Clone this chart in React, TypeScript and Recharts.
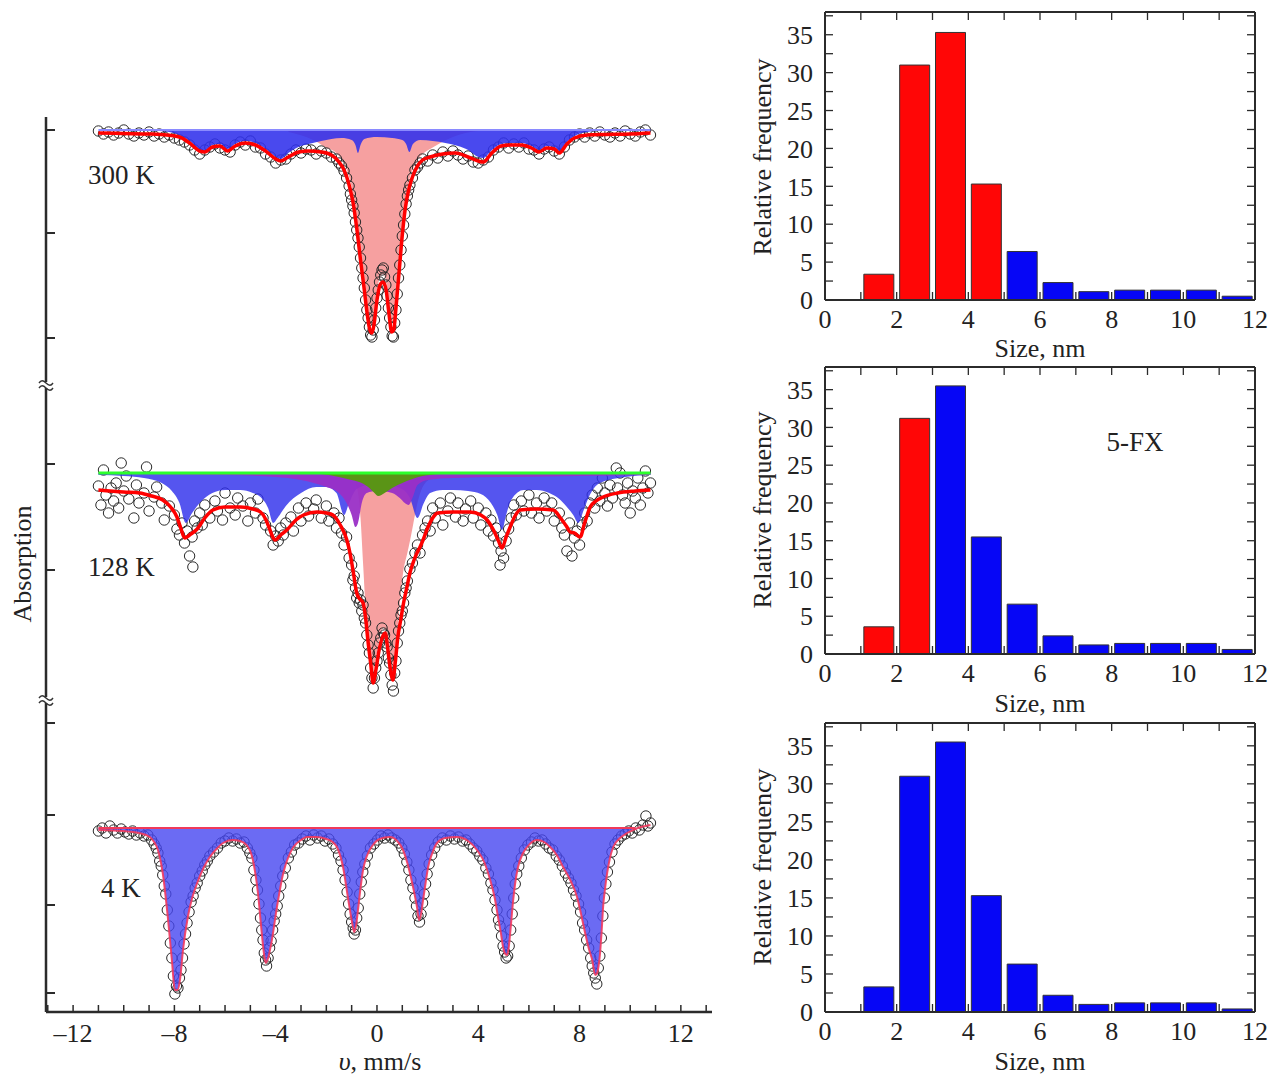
import React from 'react';
import { ComposedChart, Bar, Cell, XAxis, YAxis, Area, Line, Scatter } from 'recharts';

const FONT = '"Liberation Serif", "DejaVu Serif", "Times New Roman", serif';
const AX = '#2b2b2b';

// ---------- Mössbauer spectra: velocity axis ----------
const V_TICKS = [-13, -12, -11, -10, -9, -8, -7, -6, -5, -4, -3, -2, -1, 0, 1, 2, 3, 4, 5, 6, 7, 8, 9, 10, 11, 12, 13];
const V_LABELED = [-12, -8, -4, 0, 4, 8, 12];
const V_DOMAIN = [-13.07, 13.23];

// ---------- 300 K (absorption, arbitrary units, baseline 0) ----------
const fit300 = [[-11,0.03],[-10,0.035],[-9,0.04],[-8.3,0.05],[-7.8,0.07],[-7.4,0.13],[-7.0,0.21],[-6.8,0.22],[-6.5,0.17],[-6.2,0.16],[-5.9,0.21],[-5.6,0.16],[-5.2,0.13],[-4.8,0.15],[-4.4,0.21],[-4.0,0.29],[-3.8,0.31],[-3.5,0.27],[-3.1,0.22],[-2.7,0.21],[-2.2,0.22],[-1.8,0.25],[-1.5,0.32],[-1.3,0.4],[-1.1,0.55],[-0.95,0.72],[-0.8,0.98],[-0.65,1.3],[-0.5,1.6],[-0.38,1.85],[-0.28,2.0],[-0.2,2.03],[-0.12,1.95],[0,1.7],[0.12,1.55],[0.24,1.52],[0.36,1.6],[0.48,1.85],[0.58,2.02],[0.66,2.0],[0.76,1.75],[0.88,1.4],[1.0,1.05],[1.12,0.78],[1.25,0.6],[1.4,0.47],[1.6,0.36],[1.8,0.3],[2.1,0.27],[2.6,0.24],[3.1,0.23],[3.6,0.27],[4.0,0.31],[4.2,0.32],[4.5,0.24],[4.9,0.16],[5.3,0.15],[5.7,0.15],[6.1,0.18],[6.4,0.22],[6.7,0.18],[7.0,0.19],[7.2,0.23],[7.5,0.14],[7.8,0.08],[8.3,0.05],[9,0.045],[10,0.04],[10.8,0.03]];
const sextet300 = [[-11,0],[-9,0.005],[-8.2,0.02],[-7.8,0.05],[-7.4,0.11],[-7.0,0.2],[-6.8,0.21],[-6.5,0.15],[-6.2,0.14],[-5.9,0.19],[-5.6,0.14],[-5.2,0.11],[-4.8,0.13],[-4.4,0.19],[-4.0,0.27],[-3.8,0.29],[-3.5,0.23],[-3.1,0.17],[-2.7,0.14],[-2.2,0.11],[-1.8,0.09],[-1.4,0.08],[-1.0,0.1],[-0.85,0.15],[-0.75,0.23],[-0.65,0.15],[-0.5,0.09],[0,0.07],[0.6,0.08],[1.0,0.1],[1.15,0.14],[1.28,0.22],[1.42,0.14],[1.7,0.1],[2.2,0.11],[2.7,0.13],[3.2,0.16],[3.6,0.2],[4.0,0.27],[4.2,0.28],[4.5,0.21],[4.9,0.14],[5.3,0.13],[5.7,0.13],[6.1,0.16],[6.4,0.2],[6.7,0.16],[7.0,0.17],[7.2,0.21],[7.5,0.12],[7.8,0.06],[8.3,0.02],[9,0.005],[10.8,0]];
const doublet300 = [[-3.5,0.02],[-2.8,0.07],[-2.3,0.13],[-2.0,0.18],[-1.7,0.21],[-1.5,0.26],[-1.3,0.33],[-1.1,0.47],[-0.95,0.64],[-0.8,0.9],[-0.65,1.22],[-0.5,1.52],[-0.38,1.77],[-0.28,1.92],[-0.2,1.95],[-0.12,1.87],[0,1.62],[0.12,1.47],[0.24,1.44],[0.36,1.52],[0.48,1.77],[0.58,1.94],[0.66,1.92],[0.76,1.67],[0.88,1.32],[1.0,0.97],[1.12,0.7],[1.25,0.52],[1.4,0.4],[1.6,0.3],[1.8,0.24],[2.1,0.19],[2.5,0.13],[3.0,0.07],[3.5,0.03],[4.0,0.01]];
const points300 = [[-11,0.01],[-10.8,0.04],[-10.6,0.02],[-10.4,0.05],[-10.2,0.03],[-10,0],[-9.8,0.04],[-9.6,0.06],[-9.4,0.03],[-9.2,0.05],[-9,0.02],[-8.8,0.06],[-8.6,0.04],[-8.4,0.07],[-8.2,0.05],[-8,0.08],[-7.8,0.1],[-7.6,0.12],[-7.4,0.15],[-7.2,0.2],[-7,0.24],[-6.8,0.2],[-6.6,0.17],[-6.4,0.14],[-6.2,0.18],[-6,0.2],[-5.8,0.22],[-5.6,0.15],[-5.4,0.12],[-5.2,0.15],[-5,0.11],[-4.8,0.17],[-4.6,0.18],[-4.4,0.24],[-4.2,0.27],[-4,0.33],[-3.8,0.3],[-3.6,0.29],[-3.4,0.24],[-3.2,0.2],[-3,0.23],[-2.8,0.19],[-2.6,0.2],[-2.4,0.24],[-2.2,0.21],[-2,0.23],[-1.8,0.27],[-1.6,0.29],[-1.5,0.33],[-1.4,0.36],[-1.3,0.41],[-1.2,0.48],[-1.1,0.56],[-1.05,0.64],[-1,0.7],[-0.95,0.76],[-0.9,0.83],[-0.85,0.92],[-0.8,1.0],[-0.75,1.08],[-0.7,1.17],[-0.65,1.28],[-0.6,1.38],[-0.55,1.48],[-0.5,1.58],[-0.45,1.7],[-0.4,1.8],[-0.35,1.88],[-0.3,1.97],[-0.25,2.05],[-0.2,2.07],[-0.15,2.0],[-0.1,1.9],[-0.05,1.78],[0,1.68],[0.05,1.6],[0.1,1.52],[0.15,1.45],[0.2,1.4],[0.25,1.38],[0.3,1.47],[0.35,1.55],[0.4,1.66],[0.45,1.78],[0.5,1.88],[0.55,1.97],[0.6,2.06],[0.65,2.07],[0.7,1.93],[0.75,1.8],[0.8,1.64],[0.85,1.48],[0.9,1.35],[0.95,1.2],[1,1.06],[1.05,0.95],[1.1,0.84],[1.15,0.74],[1.2,0.66],[1.25,0.6],[1.3,0.55],[1.4,0.48],[1.5,0.4],[1.6,0.37],[1.7,0.33],[1.8,0.29],[2,0.31],[2.2,0.25],[2.4,0.28],[2.6,0.22],[2.8,0.26],[3,0.21],[3.2,0.25],[3.4,0.29],[3.6,0.26],[3.8,0.32],[4,0.33],[4.2,0.3],[4.4,0.27],[4.6,0.2],[4.8,0.17],[5,0.13],[5.2,0.18],[5.4,0.14],[5.6,0.17],[5.8,0.13],[6,0.19],[6.2,0.2],[6.4,0.24],[6.6,0.19],[6.8,0.17],[7,0.21],[7.2,0.24],[7.4,0.17],[7.6,0.1],[7.8,0.07],[8,0.04],[8.2,0.07],[8.4,0.03],[8.6,0.06],[8.8,0.02],[9,0.05],[9.2,0.07],[9.4,0.03],[9.6,0.06],[9.8,0.01],[10,0.04],[10.2,0.06],[10.4,0.02],[10.6,0],[10.8,0.05]];
const base300 = [[-11,0],[10.8,0]];
const Y300_DOMAIN = [-0.13, 2.55];
const Y300_TICKS = [0, 1.03, 2.08];

// ---------- 128 K ----------
const fit128 = [[-11,0.17],[-10,0.19],[-9.37,0.2],[-8.9,0.23],[-8.46,0.27],[-8.15,0.34],[-7.9,0.44],[-7.75,0.55],[-7.59,0.65],[-7.4,0.62],[-7.1,0.56],[-6.8,0.45],[-6.48,0.37],[-6.0,0.34],[-5.4,0.34],[-4.9,0.36],[-4.6,0.39],[-4.4,0.46],[-4.27,0.54],[-4.15,0.62],[-4.03,0.67],[-3.8,0.62],[-3.56,0.57],[-3.2,0.47],[-2.9,0.42],[-2.37,0.39],[-2.0,0.4],[-1.74,0.42],[-1.45,0.52],[-1.19,0.67],[-1.05,0.82],[-0.93,1.0],[-0.8,1.2],[-0.68,1.26],[-0.55,1.3],[-0.45,1.45],[-0.36,1.67],[-0.25,1.9],[-0.15,2.1],[-0.05,1.98],[0.1,1.75],[0.25,1.62],[0.32,1.6],[0.42,1.75],[0.52,1.95],[0.63,2.07],[0.72,1.9],[0.82,1.65],[0.95,1.45],[1.05,1.3],[1.2,1.12],[1.3,1.0],[1.45,0.88],[1.58,0.8],[1.7,0.74],[1.82,0.67],[2.0,0.55],[2.2,0.45],[2.4,0.4],[3.0,0.39],[3.68,0.39],[4.1,0.42],[4.35,0.47],[4.6,0.57],[4.8,0.68],[4.94,0.75],[5.1,0.64],[5.26,0.54],[5.45,0.43],[5.65,0.37],[6.3,0.36],[6.96,0.37],[7.25,0.45],[7.5,0.54],[7.63,0.59],[7.8,0.6],[8.02,0.64],[8.2,0.5],[8.42,0.34],[8.65,0.28],[8.93,0.24],[9.5,0.2],[10.2,0.18],[10.8,0.17]];
const sextet128 = [[-11,0.02],[-10,0.03],[-9.2,0.05],[-8.5,0.1],[-8.1,0.18],[-7.8,0.3],[-7.55,0.5],[-7.3,0.4],[-7.0,0.3],[-6.5,0.2],[-6.0,0.17],[-5.4,0.17],[-4.9,0.2],[-4.6,0.24],[-4.3,0.35],[-4.1,0.5],[-3.9,0.44],[-3.6,0.33],[-3.0,0.2],[-2.4,0.14],[-2.0,0.14],[-1.6,0.2],[-1.3,0.42],[-1.1,0.3],[-0.8,0.16],[-0.3,0.12],[0.3,0.12],[0.9,0.15],[1.3,0.25],[1.6,0.45],[1.85,0.3],[2.1,0.2],[2.6,0.17],[3.0,0.17],[3.6,0.18],[4.1,0.21],[4.5,0.3],[4.75,0.42],[4.94,0.57],[5.1,0.42],[5.3,0.27],[5.8,0.17],[6.3,0.17],[6.8,0.2],[7.2,0.26],[7.5,0.34],[7.75,0.42],[7.95,0.5],[8.15,0.38],[8.35,0.25],[8.8,0.1],[9.8,0.04],[10.8,0.02]];
const purple128 = [[-11,0.01],[-6,0.02],[-4,0.04],[-3,0.07],[-2.5,0.1],[-2.0,0.14],[-1.5,0.2],[-1.2,0.3],[-1.0,0.42],[-0.85,0.54],[-0.75,0.5],[-0.6,0.3],[-0.4,0.2],[0,0.18],[0.6,0.2],[0.9,0.25],[1.1,0.3],[1.25,0.32],[1.4,0.25],[1.6,0.12],[2.0,0.07],[3,0.05],[5,0.04],[8,0.03],[10.8,0.02]];
const olive128 = [[-2.6,0],[-2.2,0.01],[-1.5,0.04],[-1.0,0.07],[-0.6,0.1],[-0.3,0.15],[-0.1,0.2],[0.05,0.23],[0.3,0.2],[0.6,0.15],[1.0,0.1],[1.4,0.06],[1.8,0.03],[2.5,0.01],[3,0]];
const doublet128 = [[-1.2,0.02],[-0.9,0.08],[-0.75,0.2],[-0.65,0.45],[-0.55,0.9],[-0.45,1.35],[-0.35,1.65],[-0.25,1.9],[-0.15,2.0],[-0.05,1.88],[0.1,1.65],[0.25,1.55],[0.35,1.58],[0.45,1.75],[0.55,1.95],[0.63,2.0],[0.72,1.85],[0.8,1.6],[0.9,1.3],[1.03,1.0],[1.2,0.8],[1.35,0.62],[1.5,0.42],[1.65,0.25],[1.85,0.12],[2.2,0.05],[3,0.01]];
const points128 = [[-11,0.13],[-10.9,0.32],[-10.8,-0.03],[-10.7,0.22],[-10.6,0.4],[-10.5,0.15],[-10.4,0.28],[-10.3,0.1],[-10.2,0.35],[-10.1,-0.1],[-10,0.18],[-9.9,0.03],[-9.8,0.26],[-9.6,0.45],[-9.5,0.12],[-9.4,0.3],[-9.2,0.2],[-9.1,-0.06],[-9,0.38],[-8.8,0.24],[-8.7,0.14],[-8.5,0.3],[-8.4,0.47],[-8.2,0.33],[-8,0.42],[-7.9,0.56],[-7.8,0.62],[-7.7,0.5],[-7.6,0.7],[-7.5,0.58],[-7.4,0.83],[-7.3,0.64],[-7.27,0.94],[-7.2,0.48],[-7.1,0.55],[-7,0.4],[-6.9,0.52],[-6.8,0.32],[-6.6,0.45],[-6.4,0.28],[-6.3,0.38],[-6.1,0.47],[-6,0.2],[-5.8,0.35],[-5.6,0.42],[-5.5,0.25],[-5.3,0.33],[-5.1,0.48],[-5,0.3],[-4.8,0.4],[-4.7,0.26],[-4.5,0.45],[-4.4,0.52],[-4.2,0.58],[-4.1,0.72],[-4,0.63],[-3.9,0.68],[-3.8,0.55],[-3.7,0.62],[-3.6,0.5],[-3.4,0.44],[-3.3,0.58],[-3.1,0.35],[-3,0.48],[-2.8,0.3],[-2.7,0.43],[-2.5,0.36],[-2.4,0.27],[-2.2,0.45],[-2,0.33],[-1.9,0.48],[-1.7,0.4],[-1.6,0.55],[-1.5,0.45],[-1.4,0.6],[-1.3,0.72],[-1.2,0.64],[-1.1,0.85],[-1,0.92],[-0.95,1.07],[-0.9,1.03],[-0.85,1.15],[-0.8,1.25],[-0.75,1.2],[-0.7,1.3],[-0.65,1.27],[-0.6,1.38],[-0.55,1.32],[-0.5,1.45],[-0.45,1.5],[-0.4,1.62],[-0.35,1.72],[-0.3,1.8],[-0.25,1.95],[-0.2,2.05],[-0.15,2.15],[-0.1,2.05],[-0.05,1.95],[0,1.88],[0.05,1.8],[0.1,1.7],[0.15,1.65],[0.2,1.55],[0.25,1.6],[0.3,1.62],[0.35,1.7],[0.4,1.74],[0.45,1.85],[0.5,1.9],[0.55,2.02],[0.6,2.12],[0.65,2.18],[0.7,2.0],[0.75,1.88],[0.8,1.7],[0.85,1.58],[0.9,1.5],[0.95,1.42],[1,1.38],[1.05,1.3],[1.1,1.2],[1.15,1.15],[1.2,1.08],[1.3,0.96],[1.4,0.9],[1.5,0.8],[1.6,0.72],[1.7,0.8],[1.8,0.62],[1.9,0.55],[2,0.48],[2.1,0.58],[2.2,0.35],[2.3,0.45],[2.5,0.3],[2.6,0.52],[2.8,0.38],[2.9,0.25],[3.1,0.44],[3.2,0.3],[3.4,0.48],[3.5,0.36],[3.7,0.28],[3.8,0.45],[4,0.35],[4.1,0.52],[4.3,0.4],[4.4,0.58],[4.5,0.47],[4.6,0.63],[4.7,0.55],[4.8,0.7],[4.86,0.92],[4.9,0.78],[5,0.85],[5.1,0.68],[5.2,0.56],[5.3,0.45],[5.4,0.32],[5.5,0.42],[5.7,0.28],[5.8,0.38],[6,0.22],[6.1,0.4],[6.3,0.3],[6.4,0.45],[6.6,0.25],[6.7,0.38],[6.9,0.3],[7,0.48],[7.2,0.4],[7.3,0.55],[7.4,0.62],[7.5,0.78],[7.6,0.5],[7.7,0.83],[7.8,0.65],[7.9,0.58],[8,0.72],[8.1,0.52],[8.2,0.4],[8.3,0.48],[8.4,0.3],[8.5,0.22],[8.6,0.35],[8.7,0.15],[8.8,0.28],[8.9,0.05],[9,0.2],[9.1,0.33],[9.2,0.12],[9.3,0.25],[9.45,-0.05],[9.5,0.15],[9.6,0],[9.7,0.22],[9.8,0.3],[9.9,0.1],[10,0.4],[10.1,0.18],[10.2,0.25],[10.3,0.05],[10.4,0.32],[10.5,0.15],[10.6,-0.02],[10.7,0.2],[10.8,0.1]];
const base128 = [[-11,0],[10.8,0]];
const Y128_DOMAIN = [-0.88, 2.27];
const Y128_TICKS = [-0.09, 0.97];

// ---------- 4 K ----------
const fit4 = [[-11,0.02],[-10,0.03],[-9.4,0.05],[-8.97,0.09],[-8.8,0.14],[-8.65,0.22],[-8.46,0.45],[-8.26,0.89],[-8.1,1.32],[-7.98,1.62],[-7.88,1.62],[-7.78,1.52],[-7.66,1.22],[-7.47,0.89],[-7.3,0.7],[-7.1,0.55],[-6.85,0.4],[-6.6,0.29],[-6.3,0.2],[-6.08,0.15],[-5.7,0.12],[-5.4,0.13],[-5.15,0.17],[-4.9,0.32],[-4.7,0.65],[-4.55,1.05],[-4.45,1.28],[-4.39,1.35],[-4.3,1.3],[-4.15,1.12],[-3.95,0.79],[-3.7,0.45],[-3.5,0.29],[-3.3,0.19],[-3.0,0.12],[-2.77,0.09],[-2.4,0.09],[-2.0,0.11],[-1.75,0.14],[-1.58,0.19],[-1.34,0.39],[-1.15,0.69],[-1.0,0.92],[-0.9,1.04],[-0.83,0.98],[-0.75,0.82],[-0.65,0.6],[-0.55,0.42],[-0.4,0.28],[-0.16,0.17],[0.1,0.11],[0.51,0.09],[0.8,0.13],[1.03,0.22],[1.2,0.35],[1.3,0.45],[1.45,0.62],[1.58,0.79],[1.66,0.92],[1.74,0.86],[1.82,0.72],[1.92,0.55],[2.02,0.39],[2.2,0.24],[2.37,0.15],[2.7,0.1],[3.16,0.09],[3.6,0.13],[3.95,0.22],[4.25,0.35],[4.47,0.52],[4.65,0.7],[4.78,0.89],[4.9,1.06],[4.98,1.19],[5.07,1.26],[5.14,1.27],[5.2,1.2],[5.26,1.05],[5.38,0.72],[5.47,0.53],[5.57,0.39],[5.75,0.26],[5.93,0.19],[6.32,0.12],[6.6,0.14],[6.84,0.19],[7.1,0.27],[7.35,0.39],[7.65,0.53],[7.9,0.69],[8.05,0.85],[8.22,1.05],[8.38,1.22],[8.5,1.32],[8.62,1.47],[8.68,1.46],[8.75,1.38],[8.81,1.25],[8.88,1.0],[8.93,0.79],[9.0,0.62],[9.09,0.45],[9.2,0.3],[9.33,0.19],[9.6,0.1],[9.88,0.05],[10.3,0],[10.8,-0.03]];
const points4 = [[-11,0.03],[-10.85,0],[-10.7,0.05],[-10.55,-0.02],[-10.4,0.02],[-10.25,0.05],[-10.1,0.01],[-9.95,0.04],[-9.8,0.06],[-9.65,0.03],[-9.5,0.07],[-9.35,0.05],[-9.2,0.08],[-9.05,0.07],[-8.9,0.12],[-8.8,0.16],[-8.72,0.2],[-8.65,0.25],[-8.58,0.33],[-8.52,0.38],[-8.46,0.47],[-8.4,0.58],[-8.34,0.66],[-8.28,0.82],[-8.22,0.98],[-8.16,1.15],[-8.1,1.3],[-8.04,1.48],[-7.98,1.66],[-7.92,1.58],[-7.86,1.6],[-7.8,1.5],[-7.74,1.42],[-7.68,1.3],[-7.62,1.16],[-7.56,1.06],[-7.5,0.95],[-7.42,0.84],[-7.34,0.74],[-7.26,0.68],[-7.18,0.6],[-7.1,0.55],[-7,0.48],[-6.9,0.43],[-6.8,0.37],[-6.7,0.33],[-6.6,0.28],[-6.45,0.24],[-6.3,0.2],[-6.15,0.15],[-6,0.13],[-5.85,0.1],[-5.7,0.13],[-5.55,0.11],[-5.4,0.15],[-5.25,0.14],[-5.12,0.2],[-5.02,0.25],[-4.94,0.3],[-4.86,0.42],[-4.78,0.52],[-4.72,0.62],[-4.66,0.76],[-4.6,0.9],[-4.55,1.02],[-4.5,1.12],[-4.45,1.25],[-4.4,1.32],[-4.36,1.38],[-4.3,1.3],[-4.24,1.2],[-4.18,1.13],[-4.12,1.02],[-4.06,0.93],[-4,0.86],[-3.94,0.78],[-3.88,0.68],[-3.8,0.58],[-3.72,0.48],[-3.62,0.4],[-3.5,0.3],[-3.38,0.24],[-3.25,0.17],[-3.1,0.15],[-2.95,0.11],[-2.8,0.08],[-2.65,0.12],[-2.5,0.07],[-2.35,0.1],[-2.2,0.08],[-2.05,0.13],[-1.9,0.11],[-1.75,0.16],[-1.62,0.2],[-1.52,0.27],[-1.42,0.33],[-1.34,0.42],[-1.26,0.52],[-1.18,0.64],[-1.12,0.76],[-1.06,0.86],[-1,0.94],[-0.94,1.0],[-0.9,1.06],[-0.85,1.02],[-0.8,0.9],[-0.74,0.8],[-0.68,0.66],[-0.62,0.54],[-0.56,0.44],[-0.48,0.36],[-0.38,0.28],[-0.26,0.2],[-0.12,0.16],[0.02,0.12],[0.16,0.08],[0.3,0.1],[0.44,0.07],[0.58,0.1],[0.72,0.12],[0.86,0.15],[0.98,0.2],[1.08,0.26],[1.18,0.34],[1.26,0.42],[1.34,0.52],[1.42,0.6],[1.5,0.7],[1.56,0.78],[1.62,0.88],[1.68,0.94],[1.74,0.86],[1.8,0.75],[1.86,0.66],[1.92,0.56],[1.98,0.46],[2.06,0.36],[2.16,0.27],[2.28,0.2],[2.42,0.14],[2.58,0.1],[2.74,0.12],[2.9,0.08],[3.06,0.11],[3.22,0.09],[3.38,0.13],[3.52,0.12],[3.66,0.16],[3.8,0.2],[3.94,0.23],[4.06,0.28],[4.18,0.32],[4.3,0.4],[4.4,0.46],[4.5,0.55],[4.58,0.62],[4.66,0.72],[4.74,0.82],[4.8,0.92],[4.86,0.98],[4.92,1.08],[4.98,1.18],[5.04,1.24],[5.1,1.3],[5.16,1.28],[5.22,1.18],[5.28,1.02],[5.34,0.86],[5.4,0.7],[5.46,0.56],[5.52,0.46],[5.6,0.38],[5.7,0.3],[5.82,0.22],[5.96,0.17],[6.1,0.14],[6.24,0.1],[6.38,0.13],[6.52,0.12],[6.66,0.16],[6.8,0.2],[6.94,0.22],[7.08,0.28],[7.2,0.32],[7.32,0.38],[7.44,0.45],[7.56,0.5],[7.66,0.55],[7.76,0.62],[7.86,0.68],[7.96,0.76],[8.04,0.84],[8.12,0.95],[8.2,1.02],[8.28,1.12],[8.36,1.2],[8.44,1.3],[8.5,1.38],[8.56,1.45],[8.62,1.5],[8.68,1.56],[8.74,1.4],[8.8,1.28],[8.86,1.1],[8.92,0.88],[8.98,0.7],[9.04,0.56],[9.1,0.44],[9.18,0.34],[9.28,0.24],[9.4,0.16],[9.52,0.12],[9.66,0.08],[9.8,0.06],[9.94,0.03],[10.08,0.05],[10.22,0],[10.36,0.02],[10.5,-0.03],[10.62,-0.12],[10.7,-0.02],[10.8,-0.05]];
const base4 = [[-11,0],[10.2,0]];
const Y4_DOMAIN = [-1.28, 1.84];
const Y4_TICKS = [-1.05, -0.13, 0.77, 1.65];

// ---------- Size histograms ----------
const H_SIZES = [1.5, 2.5, 3.5, 4.5, 5.5, 6.5, 7.5, 8.5, 9.5, 10.5, 11.5];
const H1_FREQ = [3.4, 31.0, 35.3, 15.3, 6.4, 2.3, 1.1, 1.3, 1.3, 1.3, 0.5];
const H2_FREQ = [3.6, 31.2, 35.5, 15.5, 6.6, 2.4, 1.2, 1.4, 1.4, 1.4, 0.6];
const H3_FREQ = [3.3, 31.0, 35.5, 15.3, 6.3, 2.2, 1.0, 1.2, 1.2, 1.2, 0.4];
const H1_RED = 4;
const H2_RED = 2;
const H3_RED = 0;
const H_XTICKS = [0, 1, 2, 3, 4, 5, 6, 7, 8, 9, 10, 11, 12];
const H_YTICKS = [0, 2.5, 5, 7.5, 10, 12.5, 15, 17.5, 20, 22.5, 25, 27.5, 30, 32.5, 35, 37.5];

const rows = (arr) => arr.map(([v, a]) => ({ v, a }));
const clampRows = (arr) => arr.map(([v, a]) => ({ v, a: Math.max(0, a) }));

const C_RED = '#ff0000';
const C_BLUE = '#3030ec';
const C_PINK = '#f6a0a0';
const C_PURPLE = '#9a2fc6';
const C_OLIVE = '#5a9416';
const C_GREEN = '#2cff2c';

const vLabel = (v) => (V_LABELED.includes(v) ? (v < 0 ? '\u2013' + Math.abs(v) : String(v)) : '');
const tickFont = { fontSize: 26, fontFamily: FONT, fill: '#222' };

const LEFT_W = 760;
const LEFT_MARGIN = { left: 45, right: 48 };

const ringShape = (p) => (
  <circle cx={p.cx} cy={p.cy} r={5.2} fill="none" stroke="#2a2a2a" strokeWidth={1} />
);

function yAxisLeft(domain, ticks) {
  return (
    <YAxis
      type="number"
      dataKey="a"
      domain={domain}
      allowDataOverflow
      reversed
      ticks={ticks}
      interval={0}
      width={1}
      tickSize={-9}
      tickFormatter={() => ''}
      axisLine={{ stroke: AX, strokeWidth: 2.5 }}
      tickLine={{ stroke: AX, strokeWidth: 2 }}
    />
  );
}

function xAxisV(show) {
  if (!show) {
    return <XAxis type="number" dataKey="v" domain={V_DOMAIN} allowDataOverflow hide height={1} />;
  }
  return (
    <XAxis
      type="number"
      dataKey="v"
      domain={V_DOMAIN}
      allowDataOverflow
      ticks={V_TICKS}
      interval={0}
      height={1}
      tickSize={-7}
      tickMargin={19}
      tickFormatter={vLabel}
      tick={tickFont}
      axisLine={{ stroke: AX, strokeWidth: 2.5 }}
      tickLine={{ stroke: AX, strokeWidth: 1.5 }}
    />
  );
}

function Hist({ top, freq, redCount, mt, mb }) {
  const data = H_SIZES.map((s, i) => ({ size: s, f: freq[i] }));
  return (
    <div style={{ position: 'absolute', left: 740, top, width: 537, height: 360 }}>
      <ComposedChart width={537} height={360} data={data} margin={{ top: mt, right: 21, bottom: mb, left: 84 }}>
        <XAxis xAxisId="b" type="number" dataKey="size" domain={[0, 12]} allowDataOverflow ticks={H_XTICKS} interval={0}
          height={1} tickSize={-8} tickMargin={18} tick={tickFont}
          tickFormatter={(v) => (v % 2 === 0 ? String(v) : '')}
          axisLine={{ stroke: AX, strokeWidth: 2 }} tickLine={{ stroke: AX, strokeWidth: 1.3 }} />
        <XAxis xAxisId="t" orientation="top" type="number" dataKey="size" domain={[0, 12]} allowDataOverflow ticks={H_XTICKS} interval={0}
          height={1} tickSize={-8} tickFormatter={() => ''}
          axisLine={{ stroke: AX, strokeWidth: 2 }} tickLine={{ stroke: AX, strokeWidth: 1.3 }} />
        <YAxis yAxisId="l" type="number" domain={[0, 38]} allowDataOverflow ticks={H_YTICKS} interval={0}
          width={1} tickSize={-8} tickMargin={20} tick={tickFont}
          tickFormatter={(v) => (v % 5 === 0 ? String(v) : '')}
          axisLine={{ stroke: AX, strokeWidth: 2 }} tickLine={{ stroke: AX, strokeWidth: 1.3 }} />
        <YAxis yAxisId="r" orientation="right" type="number" domain={[0, 38]} allowDataOverflow ticks={H_YTICKS} interval={0}
          width={1} tickSize={-8} tickFormatter={() => ''}
          axisLine={{ stroke: AX, strokeWidth: 2 }} tickLine={{ stroke: AX, strokeWidth: 1.3 }} />
        <Bar xAxisId="b" yAxisId="l" dataKey="f" barSize={30} stroke="#333" strokeWidth={1} isAnimationActive={false}>
          {data.map((d, i) => (
            <Cell key={i} fill={i < redCount ? '#ff0606' : '#0606f6'} />
          ))}
        </Bar>
        <Line xAxisId="t" yAxisId="r" dataKey="f" stroke="none" dot={false} activeDot={false} isAnimationActive={false} legendType="none" />
      </ComposedChart>
    </div>
  );
}

export default function App() {
  const d300 = { fit: rows(fit300), sx: rows(sextet300), db: rows(doublet300), pts: rows(points300), base: rows(base300) };
  const d128 = { fit: rows(fit128), sx: rows(sextet128), pu: rows(purple128), ol: rows(olive128), db: rows(doublet128), pts: rows(points128), base: rows(base128) };
  const d4 = { fit: rows(fit4), fill: clampRows(fit4), pts: rows(points4), base: rows(base4) };

  return (
    <div style={{ position: 'absolute', left: 0, top: 0, width: 1277, height: 1079, background: '#fff', fontFamily: FONT }}>
      {/* 300 K */}
      <div style={{ position: 'absolute', left: 0, top: 117, width: LEFT_W, height: 268 }}>
        <ComposedChart width={LEFT_W} height={268} margin={{ top: 0, bottom: 0, ...LEFT_MARGIN }}>
          {xAxisV(false)}
          {yAxisLeft(Y300_DOMAIN, Y300_TICKS)}
          <Area data={d300.db} dataKey="a" type="monotone" baseValue={0} fill={C_PINK} fillOpacity={1} stroke="none" isAnimationActive={false} zIndex={100} />
          <Scatter data={d300.pts} dataKey="a" shape={ringShape} isAnimationActive={false} zIndex={150} />
          <Area data={d300.sx} dataKey="a" type="monotone" baseValue={0} fill={C_BLUE} fillOpacity={0.88} stroke="none" isAnimationActive={false} zIndex={200} />
          <Line data={d300.base} dataKey="a" stroke="#8a8aff" strokeWidth={2} dot={false} isAnimationActive={false} zIndex={230} />
          <Line data={d300.fit} dataKey="a" type="monotone" stroke={C_RED} strokeWidth={3.5} dot={false} isAnimationActive={false} zIndex={400} />
        </ComposedChart>
      </div>

      {/* 128 K */}
      <div style={{ position: 'absolute', left: 0, top: 385, width: LEFT_W, height: 315 }}>
        <ComposedChart width={LEFT_W} height={315} margin={{ top: 0, bottom: 0, ...LEFT_MARGIN }}>
          {xAxisV(false)}
          {yAxisLeft(Y128_DOMAIN, Y128_TICKS)}
          <Area data={d128.db} dataKey="a" type="monotone" baseValue={0} fill={C_PINK} fillOpacity={1} stroke="none" isAnimationActive={false} zIndex={100} />
          <Scatter data={d128.pts} dataKey="a" shape={ringShape} isAnimationActive={false} zIndex={150} />
          <Area data={d128.sx} dataKey="a" type="monotone" baseValue={0} fill={C_BLUE} fillOpacity={0.82} stroke="none" isAnimationActive={false} zIndex={200} />
          <Area data={d128.pu} dataKey="a" type="monotone" baseValue={0} fill={C_PURPLE} fillOpacity={0.95} stroke="none" isAnimationActive={false} zIndex={210} />
          <Area data={d128.ol} dataKey="a" type="monotone" baseValue={0} fill={C_OLIVE} fillOpacity={1} stroke="none" isAnimationActive={false} zIndex={220} />
          <Line data={d128.base} dataKey="a" stroke={C_GREEN} strokeWidth={3} dot={false} isAnimationActive={false} zIndex={230} />
          <Line data={d128.fit} dataKey="a" type="monotone" stroke={C_RED} strokeWidth={3.5} dot={false} isAnimationActive={false} zIndex={400} />
        </ComposedChart>
      </div>

      {/* 4 K */}
      <div style={{ position: 'absolute', left: 0, top: 700, width: LEFT_W, height: 379 }}>
        <ComposedChart width={LEFT_W} height={379} margin={{ top: 0, bottom: 66, ...LEFT_MARGIN }}>
          {xAxisV(true)}
          {yAxisLeft(Y4_DOMAIN, Y4_TICKS)}
          <Scatter data={d4.pts} dataKey="a" shape={ringShape} isAnimationActive={false} zIndex={150} />
          <Area data={d4.fill} dataKey="a" type="monotone" baseValue={0} fill="#4646f0" fillOpacity={0.8} stroke="none" isAnimationActive={false} zIndex={200} />
          <Line data={d4.base} dataKey="a" stroke="#f03a5a" strokeWidth={2} dot={false} isAnimationActive={false} zIndex={230} />
          <Line data={d4.fit} dataKey="a" type="monotone" stroke="#f23a5e" strokeOpacity={0.9} strokeWidth={2} dot={false} isAnimationActive={false} zIndex={400} />
        </ComposedChart>
      </div>

      <Hist top={0} freq={H1_FREQ} redCount={H1_RED} mt={11} mb={59} />
      <Hist top={355} freq={H2_FREQ} redCount={H2_RED} mt={11} mb={60} />
      <Hist top={711} freq={H3_FREQ} redCount={H3_RED} mt={11} mb={58} />

      {/* text & axis-break overlay */}
      <svg width={1277} height={1079} style={{ position: 'absolute', left: 0, top: 0, pointerEvents: 'none' }}>
        <g fontFamily={FONT} fontSize={26} fill="#222">
          <text x={88} y={184} fontSize={27}>300 K</text>
          <text x={88} y={576} fontSize={27}>128 K</text>
          <text x={101} y={897} fontSize={27}>4 K</text>
          <text x={1135} y={451} textAnchor="middle" fontSize={27}>5-FX</text>
          <text x={31} y={564} textAnchor="middle" transform="rotate(-90 31 564)">Absorption</text>
          <text x={380} y={1070} textAnchor="middle"><tspan fontStyle="italic">υ</tspan>, mm/s</text>
          <text x={1040} y={357} textAnchor="middle">Size, nm</text>
          <text x={1040} y={712} textAnchor="middle">Size, nm</text>
          <text x={1040} y={1070} textAnchor="middle">Size, nm</text>
          <text x={771} y={157} textAnchor="middle" transform="rotate(-90 771 157)">Relative frequency</text>
          <text x={771} y={510} textAnchor="middle" transform="rotate(-90 771 510)">Relative frequency</text>
          <text x={771} y={867} textAnchor="middle" transform="rotate(-90 771 867)">Relative frequency</text>
        </g>
        {[385, 700].map((y) => (
          <g key={y}>
            <rect x={41} y={y - 3} width={10} height={6} fill="#fff" />
            <path d={`M39 ${y - 2} c2 -3 4 -3 7 0 s5 3 7 0`} stroke="#333" strokeWidth={1.4} fill="none" />
            <path d={`M39 ${y + 3} c2 -3 4 -3 7 0 s5 3 7 0`} stroke="#333" strokeWidth={1.4} fill="none" />
          </g>
        ))}
      </svg>
    </div>
  );
}
